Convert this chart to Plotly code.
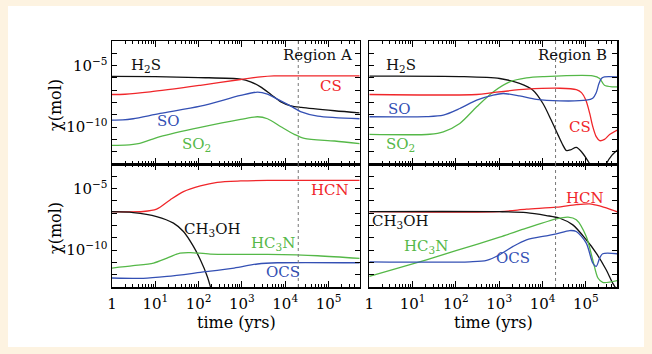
import numpy as np
import plotly.graph_objects as go
from plotly.subplots import make_subplots

# ---------------- data: log10(time / yr) and log10(abundance) ----------------
# Region A, top panel
A_H2S_t = [0, 1, 2, 2.97, 3.2, 3.43, 3.67, 3.9, 4.13, 4.37, 5.14, 5.72]
A_H2S_x = [-5.88, -5.9, -5.97, -6.1, -6.32, -6.73, -7.35, -7.95, -8.27, -8.4, -8.67, -8.84]
A_CS_t = [0, 0.3, 0.88, 2.04, 2.97, 3.43, 3.74, 4.2, 5.72]
A_CS_x = [-7.35, -7.33, -7.14, -6.6, -6.13, -5.92, -5.84, -5.83, -5.83]
A_SO_t = [0, 0.25, 0.49, 1.11, 2.04, 2.97, 3.36, 3.59, 3.82, 4.13, 4.37, 4.75, 5.72]
A_SO_x = [-9.43, -9.42, -9.32, -8.89, -8.3, -7.43, -7.16, -7.32, -7.73, -8.3, -8.76, -9.11, -9.32]
A_SO2_t = [0, 0.3, 0.64, 1.11, 2.04, 2.97, 3.36, 3.59, 3.9, 4.21, 4.44, 5.14, 5.72]
A_SO2_x = [-11.48, -11.47, -11.32, -10.78, -10.03, -9.38, -9.16, -9.32, -9.97, -10.59, -10.92, -11.13, -11.35]

# Region B, top panel
B_H2S_t = [0, 2.09, 3.01, 3.47, 3.78, 4.01, 4.2, 4.36, 4.47, 4.55, 4.65, 4.78, 4.9, 5.01, 5.09,
           5.2, 5.3, 5.4, 5.47, 5.6, 5.73]
B_H2S_x = [-5.86, -5.89, -6.05, -6.45, -7.0, -8.08, -9.43, -10.65, -11.46, -11.9, -11.85, -11.65,
           -12.0, -12.54, -13.0, -13.8, -14.0, -13.6, -13.0, -12.3, -11.86]
B_SO2_t = [0, 1.4, 1.71, 2.09, 2.48, 2.86, 3.24, 3.63, 4.01, 5.16, 5.32, 5.43, 5.62, 5.73]
B_SO2_x = [-10.59, -10.58, -10.38, -9.7, -8.35, -7.14, -6.32, -6.0, -5.9, -5.84, -6.05, -6.6, -6.73, -6.73]
B_CS_t = [0, 2.48, 2.86, 3.63, 4.4, 4.78, 4.9, 5.0, 5.09, 5.16, 5.24, 5.32, 5.43, 5.55, 5.73]
B_CS_x = [-7.35, -7.35, -7.19, -6.92, -6.84, -6.95, -7.2, -7.8, -8.89, -9.95, -10.78, -11.1, -11.0, -10.6, -10.24]
B_SO_t = [0, 1.32, 1.71, 2.09, 2.48, 2.86, 3.09, 3.47, 3.86, 4.4, 5.01, 5.16, 5.24, 5.3, 5.36, 5.43, 5.73]
B_SO_x = [-9.16, -9.15, -9.03, -8.49, -7.81, -7.4, -7.27, -7.46, -7.75, -7.87, -7.81, -7.65, -7.2, -6.5,
          -6.05, -5.92, -5.92]

# Region A, bottom panel
A_HCN_t = [0, 0.72, 1.03, 1.34, 1.65, 2.04, 2.43, 2.97, 3.59, 5.72]
A_HCN_x = [-6.87, -6.86, -6.67, -5.92, -5.25, -4.78, -4.49, -4.38, -4.33, -4.33]
A_CH3OH_t = [0, 0.49, 1.03, 1.42, 1.65, 1.88, 2.04, 2.2, 2.27, 2.35]
A_CH3OH_x = [-6.88, -6.95, -7.27, -7.81, -8.49, -9.7, -10.79, -12.14, -12.95, -14.0]
A_HC3N_t = [0, 0.49, 0.96, 1.27, 1.57, 1.81, 2.27, 3.59, 4.75, 5.72]
A_HC3N_x = [-11.46, -11.27, -11.05, -10.65, -10.24, -10.2, -10.32, -10.35, -10.46, -10.68]
A_OCS_t = [0, 0.72, 1.27, 2.04, 2.82, 3.36, 3.82, 5.72]
A_OCS_x = [-12.27, -12.3, -12.14, -11.81, -11.46, -11.13, -11.03, -11.03]

# Region B, bottom panel
B_HCN_t = [0, 3.01, 3.63, 4.32, 4.78, 5.09, 5.32, 5.55, 5.73]
B_HCN_x = [-6.87, -6.87, -6.67, -6.51, -6.3, -6.24, -6.41, -6.67, -6.9]
B_CH3OH_t = [0, 3.01, 3.63, 4.09, 4.4, 4.7, 5.01, 5.24, 5.47, 5.62, 5.75]
B_CH3OH_x = [-6.87, -6.88, -6.95, -7.19, -7.41, -7.95, -9.16, -10.24, -11.6, -12.68, -13.4]
B_HC3N_t = [0, 1.32, 2.0, 3.01, 3.63, 4.32, 4.59, 4.78, 5.01, 5.16, 5.28, 5.39, 5.74]
B_HC3N_x = [-12.14, -10.79, -10.05, -8.95, -8.22, -7.46, -7.32, -7.54, -8.9, -10.79, -12.27, -12.62, -12.46]
B_OCS_t = [0, 2.32, 2.71, 3.01, 3.32, 3.63, 4.09, 4.32, 4.63, 4.78, 5.01, 5.16, 5.24, 5.32, 5.39, 5.73]
B_OCS_x = [-10.95, -10.95, -10.84, -10.38, -9.7, -9.16, -8.84, -8.68, -8.41, -8.49, -9.43, -11.05,
           -11.33, -10.65, -10.3, -10.3]

T_MARK = 2e4  # dotted vertical line (yr)

X_TICKVALS = [1, 10, 100, 1e3, 1e4, 1e5]
X_TICKTEXT = ["1", "10<sup>1</sup>", "10<sup>2</sup>", "10<sup>3</sup>", "10<sup>4</sup>", "10<sup>5</sup>"]
Y_EXPONENTS = list(range(-13, -2))
Y_TICKVALS = [10.0 ** e for e in Y_EXPONENTS]
Y_TICKTEXT = ["10<sup>−10</sup>" if e == -10 else ("10<sup>−5</sup>" if e == -5 else "") for e in Y_EXPONENTS]

RED, BLUE, GREEN, BLACK = "#f0262a", "#3450b4", "#55b848", "#111111"
FONT = "DejaVu Serif"
CREAM = "#fdf3e1"

panels = {
    (1, 1): [(A_H2S_t, A_H2S_x, BLACK), (A_CS_t, A_CS_x, RED), (A_SO_t, A_SO_x, BLUE), (A_SO2_t, A_SO2_x, GREEN)],
    (1, 2): [(B_H2S_t, B_H2S_x, BLACK), (B_SO2_t, B_SO2_x, GREEN), (B_CS_t, B_CS_x, RED), (B_SO_t, B_SO_x, BLUE)],
    (2, 1): [(A_HCN_t, A_HCN_x, RED), (A_CH3OH_t, A_CH3OH_x, BLACK), (A_HC3N_t, A_HC3N_x, GREEN), (A_OCS_t, A_OCS_x, BLUE)],
    (2, 2): [(B_HCN_t, B_HCN_x, RED), (B_CH3OH_t, B_CH3OH_x, BLACK), (B_HC3N_t, B_HC3N_x, GREEN), (B_OCS_t, B_OCS_x, BLUE)],
}

# labels: (text, log t, log x, color, xanchor)
labels = {
    (1, 1): [("H<sub>2</sub>S", 0.39, -4.97, BLACK, "left"), ("Region A", 5.58, -4.16, BLACK, "right"),
             ("CS", 5.05, -6.67, RED, "center"), ("SO", 1.30, -9.48, BLUE, "center"),
             ("SO<sub>2</sub>", 1.96, -11.38, GREEN, "center")],
    (1, 2): [("H<sub>2</sub>S", 0.35, -4.97, BLACK, "left"), ("Region B", 5.53, -4.16, BLACK, "right"),
             ("SO", 0.69, -8.49, BLUE, "center"), ("SO<sub>2</sub>", 0.72, -11.38, GREEN, "center"),
             ("CS", 4.86, -9.97, RED, "center")],
    (2, 1): [("HCN", 5.03, -5.11, RED, "center"), ("CH<sub>3</sub>OH", 2.32, -8.35, BLACK, "center"),
             ("HC<sub>3</sub>N", 3.72, -9.43, GREEN, "center"), ("OCS", 3.95, -11.81, BLUE, "center")],
    (2, 2): [("HCN", 4.97, -5.73, RED, "center"), ("CH<sub>3</sub>OH", 0.71, -7.68, BLACK, "center"),
             ("HC<sub>3</sub>N", 1.31, -9.7, GREEN, "center"), ("OCS", 3.33, -10.65, BLUE, "center")],
}

fig = make_subplots(rows=2, cols=2, horizontal_spacing=0.019, vertical_spacing=0.0)

for (r, c), series in panels.items():
    for t, x, col in series:
        fig.add_trace(go.Scatter(x=10.0 ** np.array(t), y=10.0 ** np.array(x), mode="lines",
                                 line=dict(color=col, width=1.3, shape="spline", smoothing=0.8),
                                 showlegend=False, hoverinfo="skip"), row=r, col=c)
    for text, lx, ly, col, xa in labels[(r, c)]:
        fig.add_annotation(x=lx, y=ly, text=text, showarrow=False, xanchor=xa, yanchor="middle",
                           font=dict(family=FONT, size=15, color=col), row=r, col=c)

# dotted vertical marker in every panel
for (r, c) in panels.keys():
    idx = (r - 1) * 2 + c
    xr = "x" if idx == 1 else f"x{idx}"
    yr = "y domain" if idx == 1 else f"y{idx} domain"
    fig.add_shape(type="line", xref=xr, yref=yr, x0=T_MARK, x1=T_MARK, y0=0, y1=1,
                  line=dict(color="#777777", width=1, dash="dot"))

axis_common = dict(showline=True, linecolor="black", linewidth=1.5, mirror="allticks", showgrid=False,
                   zeroline=False, ticks="inside", tickcolor="black",
                   tickfont=dict(family=FONT, size=15, color="black"))

fig.update_xaxes(type="log", range=[0, 5.72], tickmode="array", tickvals=X_TICKVALS, ticktext=X_TICKTEXT,
                 ticklen=6, ticklabelstandoff=2,
                 minor=dict(ticks="inside", ticklen=3, dtick="D1", tickcolor="black", showgrid=False),
                 **axis_common)
fig.update_xaxes(showticklabels=False, row=1)
fig.update_yaxes(type="log", range=[-13, -3], tickmode="array", tickvals=Y_TICKVALS, ticktext=Y_TICKTEXT,
                 ticklen=5, **axis_common)
fig.update_yaxes(showticklabels=False, col=2)

W, H = 652, 354
L, R, T, B = 112, 35, 41, 67
pw, ph = W - L - R, H - T - B


def px(xp):
    return (xp - L) / pw


def py(yp):
    return (H - B - yp) / ph


# white card on cream page
fig.add_shape(type="rect", xref="paper", yref="paper", x0=px(8), x1=px(644), y0=py(347), y1=py(6),
              fillcolor="white", line=dict(width=0), layer="below")

for yc in (105, 228):
    fig.add_annotation(xref="paper", yref="paper", x=px(55), y=py(yc), text="χ(mol)", textangle=-90,
                       xanchor="center", yanchor="middle",
                       showarrow=False, font=dict(family=FONT, size=16, color="black"))
for xc in (236, 493):
    fig.add_annotation(xref="paper", yref="paper", x=px(xc), y=py(322), text="time (yrs)",
                       xanchor="center", yanchor="middle",
                       showarrow=False, font=dict(family=FONT, size=16, color="black"))

fig.update_layout(width=W, height=H, margin=dict(l=L, r=R, t=T, b=B, autoexpand=False),
                  paper_bgcolor=CREAM, plot_bgcolor="white", showlegend=False,
                  font=dict(family=FONT, color="black"))

fig.write_html("out.html", config={"displayModeBar": False, "staticPlot": True},
               post_script="document.body.style.margin='0';document.body.style.padding='0';"
                           "document.body.style.overflow='hidden';document.body.style.background='" + CREAM + "';")
